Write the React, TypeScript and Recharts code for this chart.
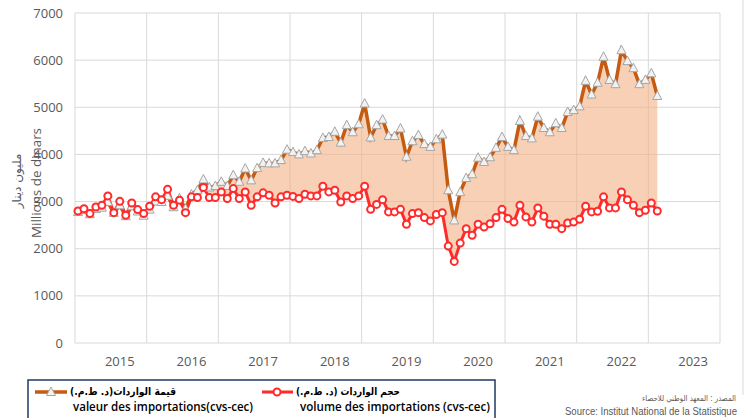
import { ComposedChart, Line, Area, XAxis, YAxis, CartesianGrid } from 'recharts';

// monthly series, first month = June 2014
const valeur = [
  2780, 2820, 2730, 2840, 2870, 2990, 2760, 2920, 2690, 2900, 2790, 2700,
  2830, 3000, 2990, 3120, 2880, 3070, 2850, 3150, 3240, 3470, 3300, 3330,
  3420, 3330, 3560, 3420, 3700, 3450, 3710, 3820, 3810, 3810, 3880, 4100,
  4050, 4000, 4070, 4020, 4090, 4350, 4370, 4480, 4250, 4620, 4470, 4640,
  5080, 4360, 4620, 4740, 4390, 4390, 4550, 3950, 4280, 4410, 4220, 4160,
  4320, 4420, 3240, 2600, 3200, 3500, 3580, 3930, 3840, 3940, 4140, 4370,
  4160, 4090, 4710, 4390, 4340, 4800, 4560, 4470, 4660, 4560, 4900, 4940,
  5020, 5560, 5270, 5520, 6070, 5580, 5490, 6210, 5980, 5830, 5490, 5580,
  5720, 5240,
];

const volume = [
  2800, 2850, 2745, 2885, 2920, 3120, 2765, 3005, 2710, 2970, 2830, 2745,
  2900, 3100, 3040, 3260, 2920, 3030, 2765, 3100, 3085, 3300, 3085, 3085,
  3205, 3065, 3275, 3065, 3205, 2920, 3100, 3185, 3135, 2970, 3100, 3135,
  3110, 3065, 3155, 3120, 3120, 3325, 3205, 3240, 2990, 3120, 3065, 3120,
  3325, 2835, 2940, 3040, 2780, 2780, 2835, 2520, 2745, 2765, 2660, 2590,
  2725, 2765, 2055, 1730, 2120, 2425, 2285, 2520, 2460, 2530, 2660, 2835,
  2640, 2565, 2920, 2675, 2565, 2865, 2690, 2520, 2520, 2425, 2545, 2565,
  2625, 2900, 2780, 2795, 3100, 2865, 2865, 3205, 3040, 2920, 2765, 2815,
  2970, 2800,
];

const years = ['2015', '2016', '2017', '2018', '2019', '2020', '2021', '2022', '2023'];
const yTicks = [0, 1000, 2000, 3000, 4000, 5000, 6000, 7000];

const FIRST_JAN = 7; // June 2014 + 7 months = January 2015

const data = valeur.map((v, i) => ({
  i,
  valeur: v,
  volume: volume[i],
  ecart: [volume[i], Math.max(v, volume[i])],
}));

const yearTicks = years.map((_, k) => FIRST_JAN + 12 * k);
const gridX = Array.from({ length: years.length + 1 }, (_, k) => -0.5 + 12 * k);

const Triangle = (props: any) => {
  const { cx, cy, index } = props;
  if (cx == null || cy == null) return null;
  return (
    <path
      key={`t-${index}`}
      d={`M${cx},${cy - 5} L${cx + 4.5},${cy + 3.5} L${cx - 4.5},${cy + 3.5} Z`}
      fill="#F2F2F2"
      stroke="#A6A6A6"
      strokeWidth={1}
    />
  );
};

const grayText = '#595959';

export default function App() {
  return (
    <div style={{ position: 'absolute', left: 0, top: 0, width: 750, height: 418, background: '#fff', overflow: 'hidden' }}>
      <ComposedChart
        width={750}
        height={418}
        data={data}
        margin={{ top: 13, right: 30, left: 15, bottom: 45 }}
      >
        <CartesianGrid stroke="#D9D9D9" verticalValues={gridX} />
        <XAxis
          type="number"
          dataKey="i"
          domain={[-0.5, 12 * years.length - 0.5]}
          ticks={yearTicks}
          tickFormatter={(v: number) => years[(v - FIRST_JAN) / 12]}
          axisLine={false}
          tickLine={false}
          tickSize={0}
          tickMargin={14}
          height={30}
          interval={0}
          tick={{ fill: grayText, fontSize: 13, fontFamily: 'Open Sans' }}
        />
        <YAxis
          domain={[0, 7000]}
          ticks={yTicks}
          axisLine={false}
          tickLine={false}
          tickSize={0}
          tickMargin={12}
          width={60}
          interval={0}
          tick={{ fill: grayText, fontSize: 13, fontFamily: 'Open Sans' }}
        />
        <Area
          dataKey="ecart"
          stroke="none"
          fill="#F4B183"
          fillOpacity={0.6}
          isAnimationActive={false}
        />
        <Line
          dataKey="valeur"
          stroke="#C55A11"
          strokeWidth={3.5}
          dot={<Triangle />}
          isAnimationActive={false}
        />
        <Line
          dataKey="volume"
          stroke="#FF2B2B"
          strokeWidth={3}
          dot={{ r: 3.5, fill: '#fff', stroke: '#FF2B2B', strokeWidth: 2 }}
          isAnimationActive={false}
        />
      </ComposedChart>

      <svg width={750} height={418} style={{ position: 'absolute', left: 0, top: 0, pointerEvents: 'none' }}>
        {/* y axis titles */}
        <text transform="translate(21,181) rotate(-90)" textAnchor="middle" fontFamily="DejaVu Sans" fontSize={12} fill={grayText}>
          مليون دينار
        </text>
        <text transform="translate(41,183) rotate(-90)" textAnchor="middle" fontFamily="Open Sans" fontSize={13} fill={grayText} textLength={110} lengthAdjust="spacingAndGlyphs">
          Millions de dinars
        </text>

        <line x1={743} y1={0} x2={743} y2={395} stroke="#D9D9D9" strokeWidth={1} />

        {/* legend */}
        <rect x={28} y={380} width={467} height={42} fill="#fff" stroke="#203864" strokeWidth={1.5} />
        <line x1={35} y1={392} x2={67} y2={392} stroke="#C55A11" strokeWidth={3.5} />
        <Triangle cx={51} cy={392} index="leg" />
        <text x={70} y={394.5} fontFamily="DejaVu Sans" fontWeight="bold" fontSize={10.5} fill="#000" textLength={106} lengthAdjust="spacingAndGlyphs">
          قيمة  الواردات(د. ط.م.)
        </text>
        <text x={73} y={410.5} fontFamily="Open Sans" fontWeight={600} fontSize={12} fill="#000" textLength={180} lengthAdjust="spacingAndGlyphs">
          valeur des importations(cvs-cec)
        </text>

        <line x1={262} y1={392} x2={293} y2={392} stroke="#FF2B2B" strokeWidth={3} />
        <circle cx={277} cy={392} r={3.5} fill="#fff" stroke="#FF2B2B" strokeWidth={2} />
        <text x={296} y={394.5} fontFamily="DejaVu Sans" fontWeight="bold" fontSize={10.5} fill="#000" textLength={104} lengthAdjust="spacingAndGlyphs">
          حجم الواردات (د. ط.م.)
        </text>
        <text x={300} y={410.5} fontFamily="Open Sans" fontWeight={600} fontSize={12} fill="#000" textLength={190} lengthAdjust="spacingAndGlyphs">
          volume des importations (cvs-cec)
        </text>

        {/* source */}
        <text x={642} y={401} fontFamily="DejaVu Sans" fontSize={8} fill={grayText} textLength={94} lengthAdjust="spacingAndGlyphs">
          المصدر : المعهد الوطني للاحصاء
        </text>
        <text x={565} y={415} fontFamily="Liberation Sans" fontSize={10} fill={grayText} textLength={172} lengthAdjust="spacingAndGlyphs">
          Source: Institut National de la Statistique
        </text>
      </svg>
    </div>
  );
}
